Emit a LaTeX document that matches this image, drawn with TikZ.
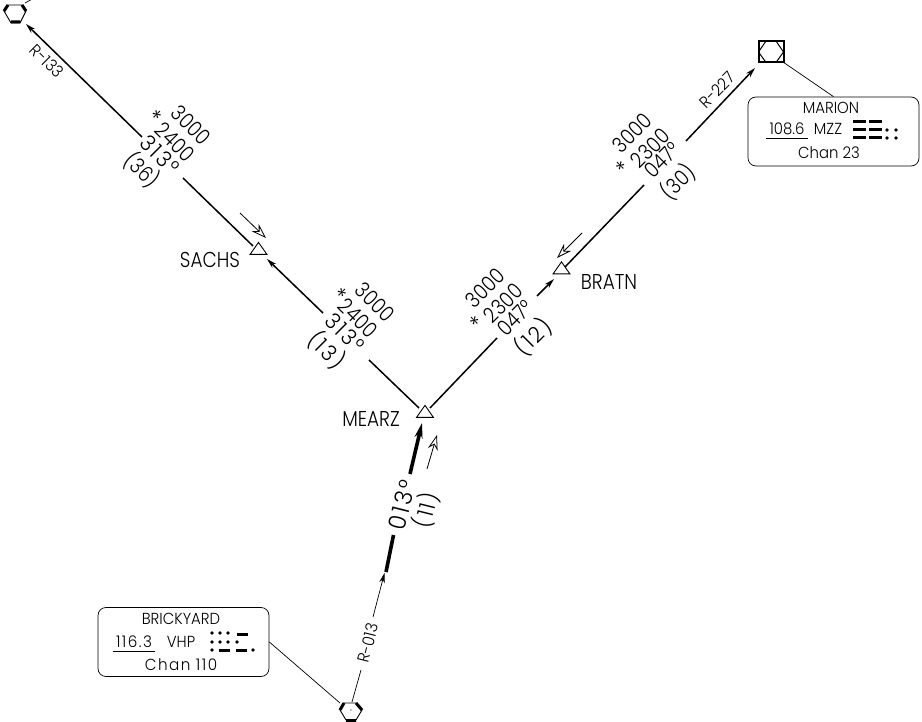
\documentclass[tikz,border=0pt]{standalone}
\usepackage{fontspec}
\setmainfont{Poppins}[UprightFont=* Light, FakeStretch=0.86]
\newfontfamily\boxfont{Poppins Light}[FakeStretch=0.93]
\newfontfamily\onesfont{Poppins Light}[LetterSpace=9, FakeStretch=0.95]
\usetikzlibrary{shapes.geometric, arrows.meta}
\tikzset{
  route/.style={line width=1.5pt},
  leader/.style={line width=0.7pt},
  solidtip/.style={-{Stealth[length=10pt,width=5.5pt]}},
  course/.style={line width=0.8pt, -{Stealth[open,length=15pt,width=10pt,inset=5pt]}},
  fixmark/.style={isosceles triangle, isosceles triangle apex angle=70, shape border rotate=90, draw=black, line width=0.9pt, inner sep=0, minimum height=12pt, minimum width=16pt},
  fixname/.style={font=\fontsize{21.5}{21.5}\selectfont, inner sep=0},
  alt/.style={font=\fontsize{21.5}{21.5}\selectfont, inner sep=0},
  altones/.style={font=\onesfont\fontsize{22}{22}\selectfont, inner sep=0},
  star/.style={font=\fontsize{24}{24}\selectfont, inner sep=0},
  radial/.style={font=\boxfont\fontsize{16.5}{16.5}\selectfont, inner sep=0},
  navbox/.style={rectangle, draw=black, rounded corners=8pt, line width=0.7pt},
  navtext/.style={font=\boxfont\fontsize{16}{16}\selectfont, inner sep=0},
  navones/.style={font=\onesfont\fontsize{16}{16}\selectfont, inner sep=0},
  dot/.style={circle, fill=black, inner sep=0, minimum size=3.8pt},
  bar/.style={line width=3pt}
}

\begin{document}
\begin{tikzpicture}[x=1pt, y=-1pt]
  \useasboundingbox (0, 0) rectangle (922, 722);

  % fixes
  \node[fixmark](sachs) at (258.5, 250){};
  \node[fixmark](mearz) at (425, 413){};
  \node[fixmark](bratn) at (561.5, 269.5){};
  \node[fixname](sachsname) at (210, 260){SACHS};
  \node[fixname](mearzname) at (371, 419){MEARZ};
  \node[fixname](bratnname) at (609, 282){BRATN};

  % stations
  \draw[line width=0.9pt](4, 11)--(8, 5)--(22, 5)--(26, 11)--(20, 23)--(11, 23)--cycle;
  \draw[line width=3pt](4, 11)--(8, 5) (22, 5)--(26, 11) (11, 22)--(20, 22);
  \coordinate(brickyard) at (340, 703);
  \draw[line width=0.9pt](340, 710)--(344, 703)--(356, 703)--(362, 710)--(356, 720)--(346, 720)--cycle;
  \draw[line width=3pt](340, 710)--(344, 703) (356, 703)--(362, 710) (346, 720.5)--(356, 720.5);
  \fill(351, 710) circle (0.6);
  \draw[line width=2pt](758.5, 41)rectangle(783.5, 62.5);
  \draw[line width=1pt](758.5, 52)--(766, 41)--(776, 41)--(783.5, 52)--(776, 62.5)--(766, 62.5)--cycle;
  \coordinate(marion) at (783, 62);
  \coordinate(topvor) at (25, 3);
  \coordinate(topout) at (36, -3);

  % route pieces
  \coordinate(a1) at (142, 137);
  \coordinate(a2) at (26, 24);
  \coordinate(a3) at (253, 246);
  \coordinate(a4) at (183, 178);
  \coordinate(a5) at (323, 313);
  \coordinate(a6) at (267, 259);
  \coordinate(a7) at (419, 408);
  \coordinate(a8) at (369, 360);
  \draw[route, solidtip](a1)--(a2);
  \draw[route](a4)--(a3);
  \draw[route, solidtip](a5)--(a6);
  \draw[route](a8)--(a7);
  \coordinate(b1) at (430, 408);
  \coordinate(b2) at (497, 338);
  \coordinate(b3) at (537, 296);
  \coordinate(b4) at (554, 279);
  \coordinate(b5) at (565, 267);
  \coordinate(b6) at (644, 185);
  \coordinate(b7) at (686, 141);
  \coordinate(b8) at (755, 68);
  \draw[route](b1)--(b2);
  \draw[route, solidtip](b3)--(b4);
  \draw[route](b5)--(b6);
  \draw[route, solidtip](b7)--(b8);
  \coordinate(c1) at (352, 702);
  \coordinate(c2) at (361, 670);
  \coordinate(c3) at (373, 617);
  \coordinate(c4) at (384.5, 573);
  \coordinate(c5) at (386, 572);
  \coordinate(c6) at (393.5, 535);
  \coordinate(c7) at (410, 474);
  \coordinate(c8) at (422, 423);
  \draw[leader](c1)--(c2);
  \draw[leader, solidtip](c3)--(c4);
  \draw[line width=3.6pt](c5)--(c6);
  \draw[line width=3.6pt, -{Stealth[length=15pt,width=8pt]}](c7)--(c8);

  % course arrows
  \coordinate(d1) at (240, 213);
  \coordinate(d2) at (266, 238);
  \coordinate(d3) at (582, 233);
  \coordinate(d4) at (557, 258);
  \coordinate(d5) at (427, 469);
  \coordinate(d6) at (437, 435);
  \draw[course](d1)--(d2);
  \draw[course](d3)--(d4);
  \draw[course](d5)--(d6);

  % altitudes, left leg
  \node[alt, rotate=-45](s1) at (191, 125){3000};
  \node[star, rotate=-45](s2) at (154, 118){*};
  \node[alt, rotate=-45](s3) at (175, 142){2400};
  \node[altones, rotate=-45](s4) at (160, 155){313°};
  \node[alt, rotate=-45](s5) at (142, 170){(36)};
  \node[alt, rotate=-45](m1) at (375, 302){3000};
  \node[star, rotate=-45](m2) at (339, 296){*};
  \node[alt, rotate=-45](m3) at (358, 318){2400};
  \node[altones, rotate=-45](m4) at (345, 333){313°};
  \node[altones, rotate=-45](m5) at (327, 350){(13)};

  % altitudes, right leg
  \node[alt, rotate=45](r1) at (632, 133){3000};
  \node[star, rotate=45](r2) at (624, 169){*};
  \node[alt, rotate=45](r3) at (650, 148){2300};
  \node[alt, rotate=45](r4) at (662, 160){047°};
  \node[alt, rotate=45](r5) at (678, 182){(30)};
  \node[alt, rotate=45](q1) at (485, 288){3000};
  \node[star, rotate=45](q2) at (478, 324){*};
  \node[alt, rotate=45](q3) at (503, 303){2300};
  \node[alt, rotate=45](q4) at (515, 318){047°};
  \node[altones, rotate=45](q5) at (533, 337){(12)};
  \node[altones, font=\onesfont\fontsize{24}{24}\selectfont, rotate=76](t1) at (402, 505){013°};
  \node[altones, rotate=76](t2) at (426, 510){(11)};

  % radials
  \node[radial, rotate=-45](rad1) at (47, 61){R-133};
  \node[radial, rotate=45](rad2) at (717, 90){R-227};
  \node[radial, rotate=76](rad3) at (368, 643){R-013};

  % boxes
  \node[navbox, minimum width=171pt, minimum height=69pt](marionbox) at (833.5, 131.5){};
  \node[navtext](m1t) at (831, 108){MARION};
  \node[navtext](m2t) at (787, 129){108.6};
  \node[navtext](m3t) at (828, 129){MZZ};
  \node[navtext](m4t) at (829, 153){Chan 23};
  \coordinate(m2a) at (766, 138);
  \coordinate(m2b) at (808, 138);
  \draw[leader](m2a)--(m2b);
  \draw[bar](853, 122)--(866, 122) (869, 122)--(882, 122);
  \draw[bar](853, 130)--(866, 130) (869, 130)--(882, 130);
  \draw[bar](853, 138)--(866, 138) (869, 138)--(882, 138);
  \foreach \px in {887, 896}{
    \foreach \py in {130, 138}{
      \node[dot] at (\px, \py){};
    }
  }
  \draw[leader](marionbox.north)--(marion);

  \node[navbox, minimum width=171pt, minimum height=69pt](brickbox) at (183.5, 642){};
  \node[navtext](b1t) at (181, 619){BRICKYARD};
  \node[navones](b2t) at (134, 642){116.3};
  \node[navtext](b3t) at (181, 642){VHP};
  \node[navones](b4t) at (181, 665){Chan 110};
  \coordinate(b2a) at (113, 651);
  \coordinate(b2b) at (155, 651);
  \draw[leader](b2a)--(b2b);
  \foreach \px in {212, 220, 228}{
    \node[dot] at (\px, 633){};
  }
  \foreach \px in {212, 220, 228, 237}{
    \node[dot] at (\px, 642){};
  }
  \node[dot] at (212, 650){};
  \node[dot] at (253, 650){};
  \draw[bar](237, 634)--(248, 634);
  \draw[bar](219, 650)--(230, 650) (236, 650)--(247, 650);
  \draw[leader](brickbox.east)--(brickyard);
  \draw[leader](topvor)--(topout);
\end{tikzpicture}
\end{document}
